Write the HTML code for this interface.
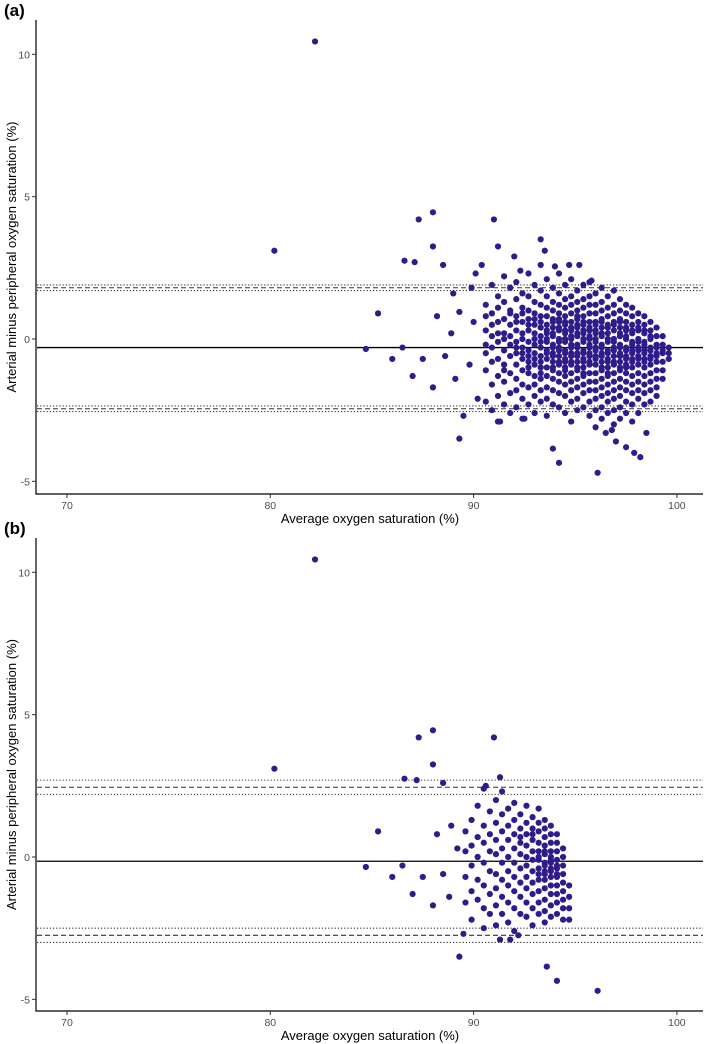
<!DOCTYPE html>
<html><head><meta charset="utf-8"><style>
html,body{margin:0;padding:0;background:#fff;}
svg{display:block;font-family:"Liberation Sans",Arial,sans-serif;}
</style></head><body>
<svg id="fig" width="709" height="1044" viewBox="0 0 709 1044"></svg>
<script>
// ---- Data ----
const xTicks=[70,80,90,100];
const yTicks=[-5,0,5,10];
// panel a statistics
const aMean=-0.3, aUpper=1.8, aLower=-2.45, aCI=0.1;
// panel b statistics
const bMean=-0.15, bUpper=2.45, bLower=-2.75, bCI=0.25;
const aOutliers=[[82.2,10.45],[80.2,3.1],[88,4.45],[87.3,4.2],[91,4.2],[86.6,2.75],[87.1,2.7],[88,3.25],[88.5,2.6],[85.3,0.9],[84.7,-0.35],[86,-0.7],[86.5,-0.3],[87,-1.3],[87.5,-0.7],[88,-1.7],[89.3,-3.5],[89.5,-2.7],[91.2,3.25],[93.3,3.5],[93.9,-3.85],[94.2,-4.35],[96.1,-4.7],[97.9,-4.0],[97.5,-3.8],[98.2,-4.15],[96.5,-3.3],[96.8,-3.2],[97,-3.6],[98.5,-3.3],[92,2.9],[92.5,-2.8],[91.3,-2.9],[95.2,2.6],[94.7,2.6],[95.8,2.05],[94,2.55],[93.5,3.1],[92.3,2.4],[90.4,2.6],[89.9,1.8],[90.1,2.3],[89,1.6],[88.2,0.8],[88.9,0.2],[89.3,0.95],[88.6,-0.6],[89.1,-1.4],[89.8,-0.9],[90.2,-2.1],[90,0.6]];
const aColumns={
"90.6":"1.2 0.3 -0.5 -1.1 -2.2 0.8 -0.2",
"90.9":"1.9 0.9 0.1 -0.8 -1.6 -2.5 0.5 -0.3",
"91.2":"1.5 0.6 -0.1 -0.7 -1.3 -2.0 1.1 0.2 -2.9",
"91.5":"2.2 1.3 0.7 0.2 -0.4 -0.9 -1.5 -2.3 0.0 -1.1",
"91.8":"1.8 1.0 0.5 -0.2 -0.6 -1.2 -1.9 -2.6 0.9 0.1",
"92.1":"2.0 1.4 0.8 0.3 -0.1 -0.5 -0.9 -1.4 -1.8 -2.4 0.6 -0.3",
"92.4":"1.6 1.1 0.6 0.2 -0.3 -0.7 -1.1 -1.6 -2.1 -2.8 0.9 -0.5 0.0",
"92.7":"2.3 1.5 1.0 0.7 0.3 -0.1 -0.4 -0.8 -1.2 -1.7 -2.3 0.5 -0.6 -1.0",
"93.0":"1.9 1.3 0.9 0.5 0.2 -0.2 -0.5 -0.9 -1.3 -1.6 -2.0 -2.6 0.0 -0.7 0.7",
"93.3":"2.6 1.7 1.2 0.8 0.4 0.1 -0.3 -0.6 -1.0 -1.4 -1.8 -2.2 0.6 -0.1 -0.8 -1.2",
"93.6":"2.1 1.5 1.1 0.8 0.5 0.2 -0.1 -0.4 -0.7 -1.0 -1.3 -1.7 -2.1 -2.7 0.0 -0.5 0.3",
"93.9":"1.8 1.3 1.0 0.7 0.4 0.1 -0.2 -0.5 -0.8 -1.1 -1.4 -1.8 -2.3 0.6 -0.3 -0.6 -1.0 0.2",
"94.2":"2.3 1.6 1.2 0.9 0.6 0.3 0.0 -0.3 -0.6 -0.9 -1.2 -1.5 -1.9 -2.4 0.4 -0.1 -0.4 -0.8 0.7",
"94.5":"1.9 1.4 1.1 0.8 0.5 0.2 -0.1 -0.4 -0.7 -1.0 -1.3 -1.6 -2.0 -2.6 0.6 0.0 -0.5 -0.8 0.3 -1.1",
"94.8":"2.1 1.5 1.2 0.9 0.6 0.3 0.0 -0.3 -0.6 -0.9 -1.2 -1.5 -1.8 -2.2 -2.9 0.4 -0.2 -0.5 -0.8 0.1",
"95.1":"1.7 1.3 1.0 0.7 0.4 0.1 -0.2 -0.5 -0.8 -1.1 -1.4 -1.7 -2.1 -2.5 0.5 0.2 -0.3 -0.6 -1.0 0.8",
"95.4":"1.9 1.4 1.1 0.8 0.5 0.2 -0.1 -0.4 -0.7 -1.0 -1.3 -1.6 -1.9 -2.4 0.6 0.0 -0.5 -0.8 0.3 -1.2",
"95.7":"2.0 1.5 1.2 0.9 0.6 0.3 0.0 -0.3 -0.6 -0.9 -1.2 -1.5 -1.8 -2.2 -2.7 0.4 -0.2 -0.5 -0.8 0.1",
"96.0":"1.6 1.2 0.9 0.6 0.3 0.0 -0.3 -0.6 -0.9 -1.2 -1.5 -1.8 -2.1 -2.5 -3.1 0.5 -0.1 -0.4 -0.7 0.2",
"96.3":"1.8 1.3 1.0 0.7 0.4 0.1 -0.2 -0.5 -0.8 -1.1 -1.4 -1.7 -2.0 -2.4 -2.8 0.6 -0.3 -0.6 -1.0 0.2",
"96.6":"1.5 1.1 0.8 0.5 0.2 -0.1 -0.4 -0.7 -1.0 -1.3 -1.6 -1.9 -2.2 -2.6 0.4 0.0 -0.5 -0.8 -1.2",
"96.9":"1.7 1.2 0.9 0.6 0.3 0.0 -0.3 -0.6 -0.9 -1.2 -1.5 -1.8 -2.1 -2.5 -3.0 0.5 -0.1 -0.4 -0.8",
"97.2":"1.4 1.0 0.7 0.4 0.1 -0.2 -0.5 -0.8 -1.1 -1.4 -1.7 -2.0 -2.4 -2.8 0.6 0.2 -0.3 -0.6 -1.0",
"97.5":"1.2 0.9 0.6 0.3 0.0 -0.3 -0.6 -0.9 -1.2 -1.5 -1.8 -2.2 -2.6 0.4 0.1 -0.4 -0.7 -1.0",
"97.8":"1.1 0.8 0.5 0.2 -0.1 -0.4 -0.7 -1.0 -1.3 -1.6 -1.9 -2.3 -2.9 0.3 -0.2 -0.5 -0.8",
"98.1":"0.9 0.6 0.3 0.0 -0.3 -0.6 -0.9 -1.2 -1.5 -1.8 -2.1 -2.6 0.4 -0.1 -0.4 -0.7",
"98.4":"0.8 0.5 0.2 -0.1 -0.4 -0.7 -1.0 -1.3 -1.6 -1.9 -2.3 0.3 -0.2 -0.5 -0.8",
"98.7":"0.6 0.3 0.0 -0.3 -0.6 -0.9 -1.2 -1.5 -1.8 -2.2 0.1 -0.4 -0.7",
"99.0":"0.4 0.1 -0.2 -0.5 -0.8 -1.1 -1.4 -1.7 -2.0 -0.3 -0.6",
"99.3":"0.1 -0.2 -0.5 -0.8 -1.1 -1.4 -0.4",
"99.6":"-0.3 -0.5 -0.7"
};
const bOutliers=[[82.2,10.45],[80.2,3.1],[88,4.45],[87.3,4.2],[91,4.2],[86.6,2.75],[87.2,2.7],[88,3.25],[88.5,2.6],[85.3,0.9],[84.7,-0.35],[86,-0.7],[86.5,-0.3],[87,-1.3],[87.5,-0.7],[88,-1.7],[88.2,0.8],[88.5,-0.6],[88.8,-1.4],[89.3,-3.5],[89.5,-2.7],[91.3,-2.9],[93.6,-3.85],[94.1,-4.35],[96.1,-4.7],[91.3,2.8],[92.2,-2.75],[91.8,-2.9],[90.6,2.5],[88.9,1.1],[89.2,0.3]];
const bColumns={
"89.6":"0.9 0.2 -0.7 -1.6",
"89.9":"1.3 0.4 -0.3 -1.2 -2.2",
"90.2":"1.8 0.7 0.0 -0.8 -1.5",
"90.5":"2.4 1.1 0.5 -0.2 -1.0 -1.8 -2.5",
"90.8":"1.6 0.8 0.2 -0.5 -1.3 -2.0",
"91.1":"2.0 1.2 0.6 0.1 -0.6 -1.1 -1.7 -2.4",
"91.4":"2.3 1.5 0.9 0.3 -0.2 -0.8 -1.4 -2.0",
"91.7":"1.7 1.1 0.6 0.0 -0.5 -1.0 -1.6 -2.3",
"92.0":"1.9 1.3 0.8 0.3 -0.2 -0.7 -1.2 -1.8 -2.6",
"92.3":"1.5 1.0 0.5 0.1 -0.4 -0.9 -1.4 -2.0 0.7",
"92.6":"1.8 1.2 0.8 0.4 0.0 -0.3 -0.7 -1.1 -1.6 -2.1",
"92.9":"1.4 1.0 0.6 0.2 -0.1 -0.5 -0.9 -1.3 -1.8 -2.4 0.8",
"93.2":"1.7 1.2 0.9 0.5 0.2 -0.1 -0.4 -0.8 -1.2 -1.6 -2.0 0.0 -0.6",
"93.5":"1.3 1.0 0.7 0.4 0.1 -0.2 -0.5 -0.8 -1.1 -1.5 -1.9 -2.3 0.2 -0.3 -0.6",
"93.8":"1.1 0.8 0.5 0.2 -0.1 -0.4 -0.7 -1.0 -1.3 -1.7 -2.1 0.0 -0.5 -0.2",
"94.1":"0.8 0.5 0.2 -0.1 -0.4 -0.7 -1.0 -1.3 -1.6 -2.0 -0.3 -0.6",
"94.4":"0.3 0.0 -0.3 -0.6 -0.9 -1.2 -1.5 -1.8 -2.2",
"94.7":"-1.0 -1.4 -1.8 -2.2"
};

// ---- Drawing ----
const NS="http://www.w3.org/2000/svg";
const svg=document.getElementById('fig');
function mk(tag,attrs,parent){const e=document.createElementNS(NS,tag);for(const k in attrs)e.setAttribute(k,attrs[k]);(parent||svg).appendChild(e);return e;}
function expand(outliers,cols){const pts=outliers.slice();for(const x in cols){cols[x].split(' ').forEach(v=>pts.push([parseFloat(x),parseFloat(v)]));}return pts;}

function panel(cfg){
  const xs=v=>67+(v-70)*20.33;
  const ys=v=>cfg.y0-v*28.47;
  const g=mk('g',{});
  
  
  const lab=mk('text',{x:4,y:cfg.top-4,'font-size':17,'font-weight':'bold',fill:'#000'},g);
  lab.textContent=cfg.label;
  
  
  const lines=[[cfg.mean,'solid'],[cfg.upper,'dash'],[cfg.lower,'dash'],[cfg.upper+cfg.ci,'dot'],[cfg.upper-cfg.ci,'dot'],[cfg.lower+cfg.ci,'dot'],[cfg.lower-cfg.ci,'dot']];
  lines.forEach(([v,s])=>{
    const l=mk('line',{x1:37,x2:703,y1:ys(v),y2:ys(v),stroke:s==='solid'?'#000':'#333','stroke-width':s==='solid'?1.3:1.1,'stroke-dasharray':s==='dash'?'5 3':(s==='dot'?'1.2 2':'none')},g);
    
    
  });
  expand(cfg.outliers,cfg.cols).forEach(p=>{
    const c=mk('circle',{cx:xs(p[0]),cy:ys(p[1]),r:3.1,fill:'#2f1b8a'},g);
    
    
  });
  const ax=mk('path',{d:`M36,${cfg.top} V${cfg.bottom} H703`,stroke:'#000','stroke-width':1.2,fill:'none'},g);
  
  
  yTicks.forEach(t=>{
    mk('line',{x1:32,x2:36,y1:ys(t),y2:ys(t),stroke:'#333'},g);
    const tx=mk('text',{x:30,y:ys(t)+4,'font-size':10.5,fill:'#4d4d4d','text-anchor':'end'},g);
    tx.textContent=t;
    
    
  });
  xTicks.forEach(t=>{
    mk('line',{x1:xs(t),x2:xs(t),y1:cfg.bottom,y2:cfg.bottom+4,stroke:'#333'},g);
    const tx=mk('text',{x:xs(t),y:cfg.bottom+15,'font-size':10.5,fill:'#4d4d4d','text-anchor':'middle'},g);
    tx.textContent=t;
    
    
  });
  const xt=mk('text',{x:370,y:cfg.bottom+29,'font-size':13,fill:'#000','text-anchor':'middle'},g);
  xt.textContent='Average oxygen saturation (%)';
  
  
  const cy=(cfg.top+cfg.bottom)/2;
  const yt=mk('text',{x:16,y:cy,'font-size':13,fill:'#000','text-anchor':'middle',transform:`rotate(-90 16 ${cy})`},g);
  yt.textContent='Arterial minus peripheral oxygen saturation (%)';
  
  
}
panel({name:'panel-a',label:'(a)',top:20,bottom:494,y0:339,mean:aMean,upper:aUpper,lower:aLower,ci:aCI,outliers:aOutliers,cols:aColumns});
panel({name:'panel-b',label:'(b)',top:538,bottom:1011,y0:857,mean:bMean,upper:bUpper,lower:bLower,ci:bCI,outliers:bOutliers,cols:bColumns});
</script>
</body></html>
